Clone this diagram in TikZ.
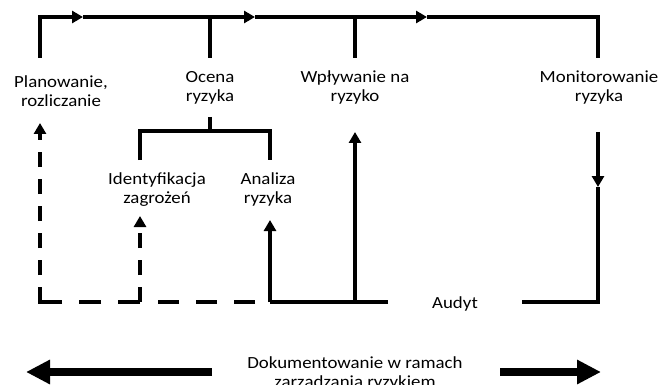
\documentclass[tikz,border=0pt]{standalone}
\usepackage{fontspec}
\setmainfont{Carlito}[FakeStretch=1.11]
\usetikzlibrary{arrows.meta}
\begin{document}
\begin{tikzpicture}[x=1pt,y=-1pt,
  flow/.style={line width=3.6pt},
  tipped/.style={-{Triangle[length=11pt,width=12pt]}},
  hdash/.style={line width=3.6pt, dash pattern=on 21pt off 17pt},
  vdash/.style={line width=3.6pt, dash pattern=on 15pt off 12pt},
  bigarrow/.style={line width=8pt, -{Triangle[length=24pt,width=23pt]}},
  lbl/.style={font=\fontsize{17}{19}\selectfont, align=center, inner sep=0pt, anchor=base}
]
\useasboundingbox (0,0) rectangle (661,385);

% labels (placed by the baseline of their last line)
\node[lbl] (plan)  at (61,107)  {Planowanie,\\rozliczanie};
\node[lbl] (ocena) at (210,102) {Ocena\\ryzyka};
\node[lbl] (wplyw) at (355,102) {Wpływanie na\\ryzyko};
\node[lbl] (monit) at (599,102) {Monitorowanie\\ryzyka};
\node[lbl] (ident) at (157,203) {Identyfikacja\\zagrożeń};
\node[lbl] (anal)  at (268,203) {Analiza\\ryzyka};
\node[lbl] (audyt) at (455,308) {Audyt};
\node[lbl] (dok)   at (355,387) {Dokumentowanie w ramach\\zarządzania ryzykiem};

% upper loop
\coordinate (planup)  at (40,58);
\coordinate (a1) at (83,17);
\coordinate (a2) at (255,17);
\coordinate (a3) at (427,17);
\coordinate (ocup)    at (210,58);
\coordinate (octop)   at (210,17);
\coordinate (wpup)    at (355,58);
\coordinate (wptop)   at (355,17);
\coordinate (monup)   at (598,58);

\draw[flow,tipped] (planup) |- (a1);
\draw[flow,tipped] (a1) -- (a2);
\draw[flow,tipped] (a2) -- (a3);
\draw[flow] (a3) -| (monup);
\draw[flow] (ocup) -- (octop);
\draw[flow] (wpup) -- (wptop);

% bracket under the assessment step
\coordinate (ocdown) at (210,117);
\coordinate (brk)    at (210,131);
\coordinate (idup)   at (140,160);
\coordinate (anup)   at (270,160);
\draw[flow] (ocdown) -- (brk);
\draw[flow] (idup) |- (brk) -| (anup);

% audit level, solid part
\coordinate (anbot)  at (270,302);
\coordinate (antip)  at (270,220);
\coordinate (audl)   at (388,302);
\coordinate (wpbot)  at (355,302);
\coordinate (wptip)  at (355,132);
\coordinate (audr)   at (522,302);
\coordinate (monbot) at (598,302);
\coordinate (mondn)  at (598,132);
\coordinate (montip) at (598,187);

\draw[flow] (audl) -- (anbot);
\draw[flow,tipped] (anbot) -- (antip);
\draw[flow,tipped] (wpbot) -- (wptip);
\draw[flow,tipped] (mondn) -- (montip);
\draw[flow] (montip) -- (monbot) -- (audr);

% audit level, dashed part
\coordinate (idbot)  at (140,302);
\coordinate (idbotx) at (141.8,302);
\coordinate (idtip)  at (140,216);
\coordinate (plbot)  at (40,302);
\coordinate (plbotx) at (43,302);
\coordinate (pltip)  at (40,123);

\draw[hdash, dash phase=23pt] (anbot) -- (idbotx);
\draw[line width=3.6pt, dash pattern=on 22pt off 17pt] (idbot) -- (plbot);
\draw[vdash, tipped] (idbot) -- (idtip);
\draw[line width=3.6pt, dash pattern=on 18pt off 12pt on 15pt off 12pt on 15pt off 12pt on 15pt off 12pt on 15pt off 12pt on 15pt off 12pt on 15pt off 12pt, tipped] (plbotx) -- (plbot) -- (pltip);

% documentation arrows
\coordinate (docl)  at (212,372);
\coordinate (doclt) at (26,372);
\coordinate (docr)  at (500,372);
\coordinate (docrt) at (601,372);
\draw[bigarrow] (docl) -- (doclt);
\draw[bigarrow] (docr) -- (docrt);
\end{tikzpicture}
\end{document}
